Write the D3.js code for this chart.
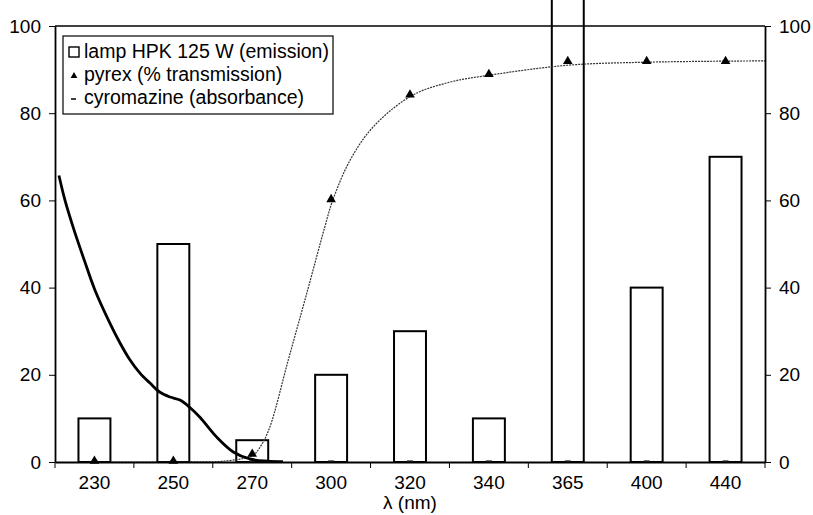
<!DOCTYPE html>
<html>
<head>
<meta charset="utf-8">
<script src="https://cdn.jsdelivr.net/npm/d3@7"></script>
<style>
  body { margin: 0; background: #fff; }
  text { font-family: Arial, "Liberation Sans", sans-serif; fill: #000; }
</style>
</head>
<body>
<svg id="chart" width="813" height="515"></svg>
<script>
// categories (wavelengths, nm)
var wavelengths = ["230", "250", "270", "300", "320", "340", "365", "400", "440"];
// lamp HPK 125 W emission (bars) - 365 goes off the top of the chart
var emission = [10, 50, 5, 20, 30, 10, 130, 40, 70];
// pyrex % transmission (triangles, one per category)
var pyrex = [0, 0, 1.6, 60, 84, 88.7, 91.7, 91.7, 91.7];
// pyrex smoothed curve, x in category units (0 = left edge, 9 = right edge)
var pyrexCurveX = [0.5, 1.5, 2.2, 2.51, 2.62, 2.725, 2.957, 3.19, 3.42, 3.52, 3.74, 4.03, 4.52, 5.0, 5.5, 6.5, 7.5, 9.0];
var pyrexCurveY = [0, 0, 0.3, 1.6, 4, 8.1, 23.4, 38.6, 53.9, 60, 69.2, 76.8, 84, 87.1, 88.7, 91, 91.7, 92];
// cyromazine absorbance curve, x in category units
var cyroX = [0.05, 0.127, 0.245, 0.371, 0.507, 0.697, 0.824, 0.951, 1.077, 1.204, 1.331, 1.458, 1.584, 1.71, 1.84, 2.05, 2.26, 2.47, 2.69, 2.89];
var cyroY = [65.7, 60, 53, 46.3, 39.4, 31.8, 27.3, 23.4, 20.4, 18.1, 16, 14.9, 14.2, 12.5, 10.2, 5.7, 2.3, 0.7, 0.2, 0.1];
var yTicks = [0, 20, 40, 60, 80, 100];

var svg = d3.select("#chart");
var margin = {left: 55, right: 48, top: 26, bottom: 53};
var width = 813 - margin.left - margin.right;
var height = 515 - margin.top - margin.bottom;
var fontFam = "Arial, 'Liberation Sans', sans-serif";

var g = svg.append("g").attr("transform", "translate(" + margin.left + "," + margin.top + ")");

var x = d3.scaleBand().domain(wavelengths).range([0, width]);
var xLin = d3.scaleLinear().domain([0, wavelengths.length]).range([0, width]);
var y = d3.scaleLinear().domain([0, 100]).range([height, 0]);
var barW = x.bandwidth() * 0.405;

//bars
g.selectAll(".bar")
  .data(emission)
  .enter()
  .append("rect")
  .attr("class", "bar")
  .attr("x", function(d, i){ return x(wavelengths[i]) + (x.bandwidth() - barW) / 2; })
  .attr("y", function(d){ return y(d); })
  .attr("width", barW)
  .attr("height", function(d){ return height - y(d); })
  .attr("fill", "#fff")
  .attr("stroke", "#000")
  .attr("stroke-width", 2);

// cyromazine zero markers
g.selectAll(".dash")
  .data(wavelengths)
  .enter()
  .append("line")
  .attr("x1", function(d){ return x(d) + x.bandwidth()/2 - 3; })
  .attr("x2", function(d){ return x(d) + x.bandwidth()/2 + 3; })
  .attr("y1", y(0) - 1).attr("y2", y(0) - 1)
  .attr("stroke", "#444").attr("stroke-width", 1.5);

var smooth = d3.line()
  .x(function(d){ return xLin(d[0]); })
  .y(function(d){ return y(d[1]); })
  .curve(d3.curveCatmullRom.alpha(0.5));

// pyrex curve
g.append("path")
  .datum(d3.zip(pyrexCurveX, pyrexCurveY))
  .attr("d", smooth)
  .attr("fill", "none")
  .attr("stroke", "#333")
  .attr("stroke-width", 1.2)
  .attr("stroke-dasharray", "2,1");

// cyromazine curve
g.append("path")
  .datum(d3.zip(cyroX, cyroY))
  .attr("d", smooth)
  .attr("fill", "none")
  .attr("stroke", "#000")
  .attr("stroke-width", 2.8);

// pyrex triangles
var tri = d3.symbol().type(d3.symbolTriangle).size(40);
g.selectAll(".tri")
  .data(pyrex)
  .enter()
  .append("path")
  .attr("d", tri)
  .attr("transform", function(d, i){ return "translate(" + (x(wavelengths[i]) + x.bandwidth()/2) + "," + (y(d) - 1) + ")"; })
  .attr("fill", "#000");

// frame + axes
g.append("line").attr("x1", 0).attr("x2", width).attr("y1", 0).attr("y2", 0).attr("stroke", "#000").attr("stroke-width", 1.5);

var left = g.append("g")
  .call(d3.axisLeft(y).tickValues(yTicks).tickSize(6).tickSizeOuter(0).tickPadding(8));
var right = g.append("g")
  .attr("transform", "translate(" + width + ",0)")
  .call(d3.axisRight(y).tickValues(yTicks).tickSize(6).tickSizeOuter(0).tickPadding(8));
var bottom = g.append("g")
  .attr("transform", "translate(0," + height + ")")
  .call(d3.axisBottom(x).tickSize(0).tickPadding(14));

// category boundary ticks
bottom.selectAll(".bound")
  .data(d3.range(wavelengths.length + 1))
  .enter()
  .append("line")
  .attr("x1", function(d){ return xLin(d); }).attr("x2", function(d){ return xLin(d); })
  .attr("y1", 0).attr("y2", 6)
  .attr("stroke", "#000");

[left, right, bottom].forEach(function(a){
  a.select(".domain").attr("stroke", "#000").attr("stroke-width", 1.8);
  a.selectAll("text").style("font-size", "19px").style("font-family", fontFam).attr("fill", "#000");
});

svg.append("text")
  .attr("x", margin.left + width/2)
  .attr("y", 509)
  .attr("text-anchor", "middle")
  .style("font-size", "19px")
  .text("λ (nm)");

// legend
var leg = g.append("g").attr("transform", "translate(8,10)");
leg.append("rect").attr("width", 270).attr("height", 78).attr("fill", "#fff").attr("stroke", "#000").attr("stroke-width", 1.2);
var labels = ["lamp HPK 125 W (emission)", "pyrex (% transmission)", "cyromazine (absorbance)"];
leg.selectAll(".lt")
  .data(labels)
  .enter()
  .append("text")
  .attr("x", 21)
  .attr("y", function(d, i){ return 22 + i * 23; })
  .style("font-size", "19.5px")
  .text(function(d){ return d; });
leg.append("rect").attr("x", 6).attr("y", 11).attr("width", 10).attr("height", 10).attr("fill", "#fff").attr("stroke", "#000").attr("stroke-width", 1.4);
leg.append("path").attr("d", d3.symbol().type(d3.symbolTriangle).size(20)).attr("transform", "translate(11,40)").attr("fill", "#000");
leg.append("line").attr("x1", 8).attr("x2", 13).attr("y1", 63).attr("y2", 63).attr("stroke", "#000").attr("stroke-width", 1.5);
</script>
</body>
</html>
